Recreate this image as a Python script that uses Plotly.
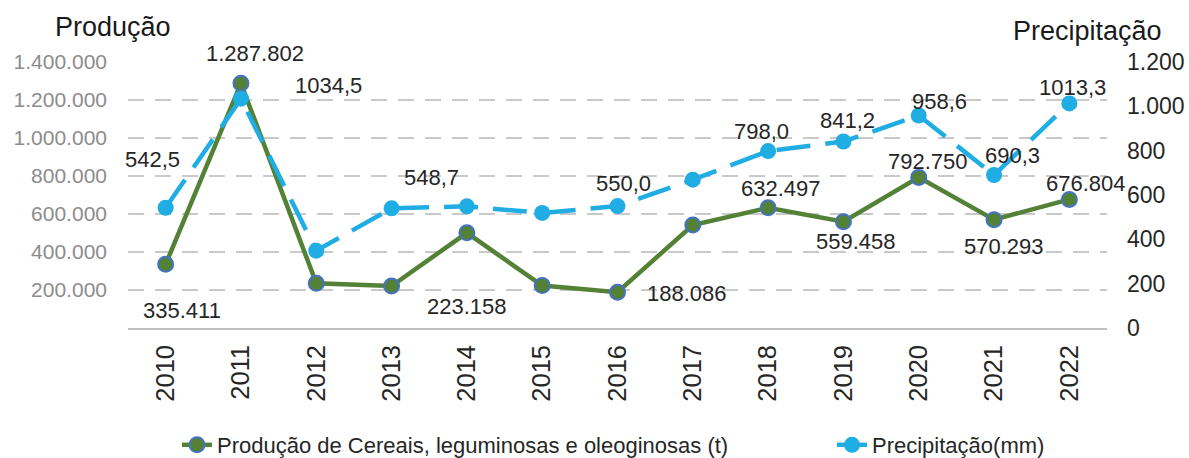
import plotly.graph_objects as go

# ---- data ----
years = ["2010", "2011", "2012", "2013", "2014", "2015", "2016",
         "2017", "2018", "2019", "2020", "2021", "2022"]
producao = [335411, 1287802, 235000, 221000, 501000, 223158, 188086,
            542000, 632497, 559458, 792750, 570293, 676804]
precipitacao = [542.5, 1034.5, 349.0, 540.0, 548.7, 519.0, 550.0,
                669.0, 798.0, 841.2, 958.6, 690.3, 1013.3]

prod_ticks = [200000, 400000, 600000, 800000, 1000000, 1200000, 1400000]
prec_ticks = [0, 200, 400, 600, 800, 1000, 1200]

serie_prod = "Produção de Cereais, leguminosas e oleoginosas (t)"
serie_prec = "Precipitação(mm)"
titulo_esq = "Produção"
titulo_dir = "Precipitação"

# which points carry a data label, with the label's pixel offset (dx, dy; dy down)
prod_label_idx = [0, 1, 5, 6, 8, 9, 10, 11, 12]
prod_label_off = [(16, 46), (14, -30), (-75, 21), (69, 1), (13, -19),
                  (13, 20), (9, -16), (10, 27), (17, -16)]
prec_label_idx = [0, 1, 4, 6, 8, 9, 10, 11, 12]
prec_label_off = [(-13, -48), (88, -13), (-35, -29), (6, -23), (-7, -20),
                  (4, -21), (21, -14), (18, -19), (3, -16)]


def fmt_int(v):
    return f"{int(round(v)):,}".replace(",", ".")


def fmt_dec(v):
    return f"{v:.1f}".replace(".", ",")


# ---- style ----
W, H = 1189, 458
ML, MR, MT, MB = 128, 82, 62, 130
PW = W - ML - MR
PH = H - MT - MB
FONT = "Liberation Sans, Arial, sans-serif"
GREEN = "#538135"
EDGE = "#4472C4"
BLUE = "#1FADE4"
DARK = "#262626"
GRAY = "#8C8C8C"
GRID = "#C9C9C9"


def px_to_paper_x(px):
    return (px - ML) / PW


def px_to_paper_y(py):
    return (H - MB - py) / PH


fig = go.Figure()
fig.add_trace(go.Scatter(
    x=years, y=producao, name=serie_prod, mode="lines+markers",
    line=dict(color=GREEN, width=4.5),
    marker=dict(size=15, color=GREEN, line=dict(color=EDGE, width=2)),
    yaxis="y", legend="legend",
))
fig.add_trace(go.Scatter(
    x=years, y=precipitacao, name=serie_prec, mode="lines+markers",
    line=dict(color=BLUE, width=4.5, dash="34px,15px"),
    marker=dict(size=16, color=BLUE),
    yaxis="y2", legend="legend2",
))

annotations = []
for i, (dx, dy) in zip(prod_label_idx, prod_label_off):
    annotations.append(dict(
        x=i, y=producao[i], xref="x", yref="y", text=fmt_int(producao[i]),
        showarrow=False, xshift=dx, yshift=-dy,
        font=dict(family=FONT, size=22, color=DARK)))
for i, (dx, dy) in zip(prec_label_idx, prec_label_off):
    annotations.append(dict(
        x=i, y=precipitacao[i], xref="x", yref="y2", text=fmt_dec(precipitacao[i]),
        showarrow=False, xshift=dx, yshift=-dy,
        font=dict(family=FONT, size=22, color=DARK)))

annotations.append(dict(
    x=px_to_paper_x(113), y=px_to_paper_y(27), xref="paper", yref="paper",
    text=titulo_esq, showarrow=False, xanchor="center", yanchor="middle",
    font=dict(family=FONT, size=27, color="#1A1A1A")))
annotations.append(dict(
    x=px_to_paper_x(1087), y=px_to_paper_y(31), xref="paper", yref="paper",
    text=titulo_dir, showarrow=False, xanchor="center", yanchor="middle",
    font=dict(family=FONT, size=27, color="#1A1A1A")))

legend_style = dict(orientation="h", xref="container", yref="container",
                    yanchor="middle", xanchor="left",
                    font=dict(family=FONT, size=22, color=DARK),
                    bgcolor="rgba(0,0,0,0)")

fig.update_layout(
    width=W, height=H,
    margin=dict(l=ML, r=MR, t=MT, b=MB, pad=0, autoexpand=False),
    paper_bgcolor="white", plot_bgcolor="white",
    font=dict(family=FONT, color=DARK),
    showlegend=True,
    legend=dict(x=177 / W, y=1 - 445 / H, **legend_style),
    legend2=dict(x=832 / W, y=1 - 445 / H, **legend_style),
    xaxis=dict(type="category", categoryorder="array", categoryarray=years,
               range=[-0.5, len(years) - 0.5],
               tickangle=-90, tickfont=dict(family=FONT, size=25.5, color=DARK),
               showgrid=False, showline=True, linecolor="#BFBFBF", linewidth=1.5,
               ticks="", ticklabelstandoff=5, zeroline=False, fixedrange=True),
    yaxis=dict(range=[0, 1400000], tickvals=prod_ticks,
               ticktext=[fmt_int(v) for v in prod_ticks],
               tickfont=dict(family=FONT, size=21, color=GRAY),
               showgrid=True, gridcolor=GRID, gridwidth=1.5, griddash="16px,11px",
               zeroline=False, showline=False, ticks="", ticklabelstandoff=20),
    yaxis2=dict(range=[0, 1200], tickvals=prec_ticks,
                ticktext=[fmt_int(v) for v in prec_ticks],
                overlaying="y", side="right",
                tickfont=dict(family=FONT, size=23, color=DARK),
                showgrid=False, zeroline=False, showline=False, ticks="",
                ticklabelstandoff=19),
    annotations=annotations,
)

fig.write_html("out.html",
               config={"displayModeBar": False},
               post_script="document.body.style.margin='0';"
                           "document.body.style.overflow='hidden';")
